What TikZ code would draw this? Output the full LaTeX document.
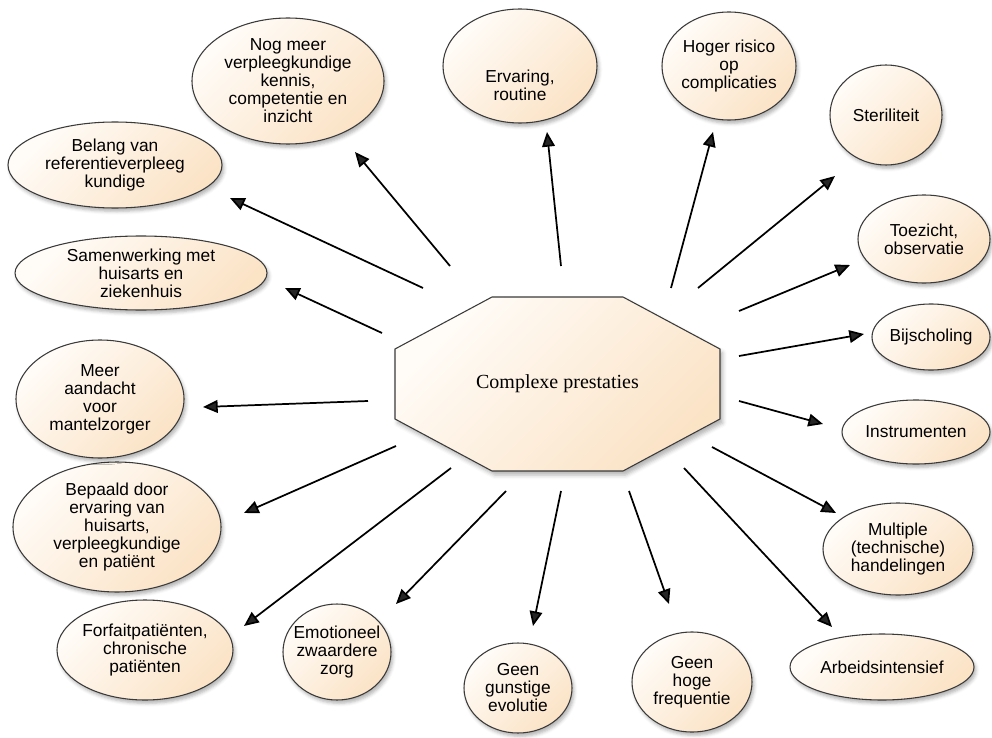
\documentclass[tikz,border=0pt]{standalone}
\usepackage{fontspec}
\setmainfont{Liberation Serif}
\setsansfont{Liberation Sans}
\usetikzlibrary{shapes.geometric,arrows.meta,shadows.blur}

\definecolor{peachlight}{HTML}{FFFCF8}
\definecolor{peachdark}{HTML}{FBE3C6}
\definecolor{rim}{HTML}{3A3A3A}

\tikzset{
  bubble/.style={ellipse, draw=rim, line width=0.8pt, inner sep=0pt,
    top color=peachlight, bottom color=peachdark, shading angle=45,
    blur shadow={shadow xshift=1.5pt, shadow yshift=-2.5pt,
      shadow blur radius=2.5pt, shadow opacity=30}},
  btext/.style={align=center, inner sep=0pt,
    font=\sffamily\fontsize{13}{13.5}\selectfont},
  hubshape/.style={draw=rim, line width=0.8pt,
    top color=peachlight, bottom color=peachdark, shading angle=45,
    blur shadow={shadow xshift=2pt, shadow yshift=-3pt,
      shadow blur radius=3pt, shadow opacity=30}},
  hubtext/.style={inner sep=0pt, font=\fontsize{15}{18}\selectfont},
  link/.style={line width=1.3pt, -{Triangle[length=11pt,width=9.5pt]}}
}

% \ovalnode{name}{x}{y}{width}{height}{text shift}{text}
\newcommand\ovalnode[7]{%
  \node[bubble, minimum width=#4*0.75pt, minimum height=#5*0.75pt] (#1) at (#2,#3) {};
  \node[btext] (#1-t) at ([yshift=-#6*0.75pt]#1) {#7};}

% \spoke{name}{start x}{start y}{tip x}{tip y}
\newcommand\spoke[5]{%
  \coordinate (#1-s) at (#2,#3);
  \coordinate (#1-e) at (#4,#5);
  \draw[link] (#1-s) -- (#1-e);}

\begin{document}
\begin{tikzpicture}[x=0.75pt,y=-0.75pt]
\useasboundingbox (0,0) rectangle (992,738);

% central octagon
\draw[hubshape] (395,349) -- (492,297) -- (623,297) -- (720,349)
  -- (720,419) -- (623,471) -- (492,471) -- (395,419) -- cycle;
\node[hubtext] (hub) at (557.5,384) {Complexe prestaties};

% surrounding ovals
\ovalnode{nog}{288}{81}{192}{126}{0}{Nog meer\\verpleegkundige\\kennis,\\competentie en\\inzicht}
\ovalnode{erv}{520}{66}{154}{114}{19}{Ervaring,\\routine}
\ovalnode{hog}{729}{66}{134}{108}{0}{Hoger risico\\op\\complicaties}
\ovalnode{ste}{886}{115}{112}{100}{0}{Steriliteit}
\ovalnode{toe}{924}{239}{132}{88}{0}{Toezicht,\\observatie}
\ovalnode{bij}{931}{337}{118}{66}{0}{Bijscholing}
\ovalnode{ins}{916}{432}{148}{64}{0}{Instrumenten}
\ovalnode{mul}{898}{549}{150}{92}{0}{Multiple\\(technische)\\handelingen}
\ovalnode{arb}{882}{667}{184}{66}{0}{Arbeidsintensief}
\ovalnode{hoge}{692}{682}{120}{100}{0}{Geen\\hoge\\frequentie}
\ovalnode{gun}{518}{688}{108}{90}{0}{Geen\\gunstige\\evolutie}
\ovalnode{emo}{337}{652}{108}{96}{0}{Emotioneel\\zwaardere\\zorg}
\ovalnode{for}{145}{650}{176}{100}{0}{Forfaitpatiënten,\\chronische\\patiënten}
\ovalnode{bep}{117}{527}{208}{130}{0}{Bepaald door\\ervaring van\\huisarts,\\verpleegkundige\\en patiënt}
\ovalnode{mee}{100}{399}{168}{118}{0}{Meer\\aandacht\\voor\\mantelzorger}
\ovalnode{sam}{141}{273}{252}{74}{0}{Samenwerking met\\huisarts en\\ziekenhuis}
\ovalnode{bel}{115}{165}{214}{86}{0}{Belang van\\referentieverpleeg\\kundige}

% arrows from the centre outwards
\spoke{a-nog}{450}{266}{355}{152}
\spoke{a-erv}{561}{266}{547}{132}
\spoke{a-hog}{671}{288}{713}{132}
\spoke{a-ste}{698}{288}{835}{176}
\spoke{a-toe}{739}{311}{850}{265}
\spoke{a-bij}{739}{356}{864}{334}
\spoke{a-ins}{739}{401}{823}{424}
\spoke{a-mul}{712}{447}{836}{513}
\spoke{a-arb}{684}{468}{832}{627}
\spoke{a-hoge}{629}{491}{669}{604}
\spoke{a-gun}{561}{491}{533}{626}
\spoke{a-emo}{506}{491}{396}{604}
\spoke{a-for}{451}{468}{244}{626}
\spoke{a-bep}{396}{446}{244}{513}
\spoke{a-mee}{368}{401}{203}{407}
\spoke{a-sam}{382}{333}{285}{288}
\spoke{a-bel}{423}{288}{230}{198}
\end{tikzpicture}
\end{document}
